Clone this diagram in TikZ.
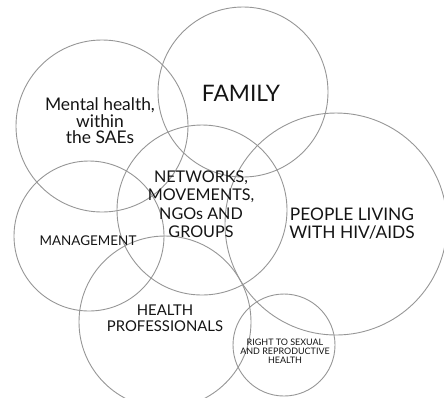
\documentclass[tikz,border=0pt]{standalone}
\usepackage{fontspec}
\setmainfont{Lato}
\definecolor{ring}{RGB}{150,150,150}
\definecolor{ink}{RGB}{20,20,20}
\begin{document}
\begin{tikzpicture}[x=1bp,y=-1bp,
  ring/.style={draw=ring,line width=0.9bp,circle,minimum size=#1,inner sep=0pt},
  lbl/.style={text=ink,align=center,inner sep=0pt}]
\useasboundingbox (0,0) rectangle (444,397);
\node[ring=172bp] (cmental) at (102,126) {};
\node[ring=170bp] (cfamily) at (243,92) {};
\node[ring=170bp] (cnet) at (202,210) {};
\node[ring=222bp] (cpeople) at (336,224) {};
\node[ring=150bp] (cman) at (89,236) {};
\node[ring=172bp] (chealth) at (165,322) {};
\node[ring=102bp] (cright) at (284,345) {};
\node[lbl,font=\fontsize{17.5}{16.5}\selectfont] (tmental) at (100,121) {Mental health,\\within\\the SAEs};
\node[lbl,font=\fontsize{22.8}{24}\selectfont] (tfamily) at (241,93) {FAMILY};
\node[lbl,font=\fontsize{16.2}{18.5}\selectfont] (tnet) at (201,204) {NETWORKS,\\MOVEMENTS,\\NGOs AND\\GROUPS};
\node[lbl,font=\fontsize{17.4}{18}\selectfont] (tpeople) at (352,224) {PEOPLE LIVING\\WITH HIV/AIDS};
\node[lbl,font=\fontsize{13.5}{14}\selectfont] (tman) at (88,241) {MANAGEMENT};
\node[lbl,font=\fontsize{14.9}{16}\selectfont] (thealth) at (165,318) {HEALTH\\PROFESSIONALS};
\node[lbl,font=\fontsize{9}{9}\selectfont] (tright) at (285,351) {RIGHT TO SEXUAL\\AND REPRODUCTIVE\\HEALTH};
\end{tikzpicture}
\end{document}
